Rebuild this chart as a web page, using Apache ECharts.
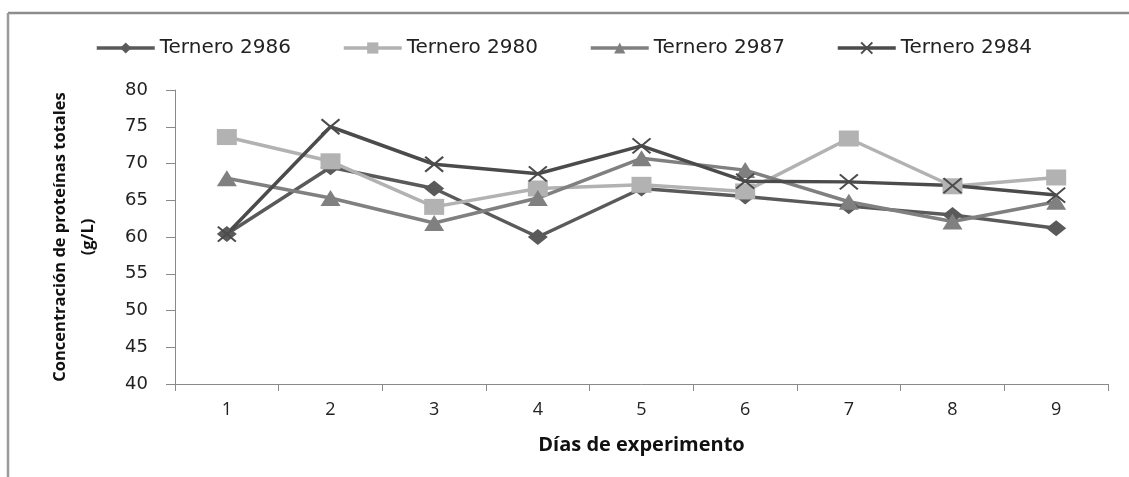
<!DOCTYPE html>
<html>
<head>
<meta charset="utf-8">
<script src="https://cdn.jsdelivr.net/npm/echarts@6/dist/echarts.min.js"></script>
<style>
  html, body { margin: 0; padding: 0; background: #ffffff; }
  #chart { width: 1129px; height: 477px; }
</style>
</head>
<body>
<div id="chart"></div>
<script>
// Días de experimento (categories)
const dias = ['1', '2', '3', '4', '5', '6', '7', '8', '9'];

// Concentración de proteínas totales (g/L) per calf
const ternero2986 = [60.4, 69.5, 66.6, 60.0, 66.6, 65.5, 64.2, 63.0, 61.2];
const ternero2980 = [73.6, 70.3, 64.1, 66.6, 67.1, 66.2, 73.4, 66.9, 68.1];
const ternero2987 = [68.0, 65.3, 61.9, 65.3, 70.7, 69.1, 64.8, 62.1, 64.8];
const ternero2984 = [60.4, 75.0, 69.9, 68.6, 72.4, 67.6, 67.5, 67.0, 65.7];

// Y axis ticks
const yMin = 40, yMax = 80, yStep = 5;

const crossPath = 'path://M0,0L10,10M10,0L0,10';

function lineSeries(name, data, color, symbol, size, extra) {
  return Object.assign({
    name: name,
    type: 'line',
    data: data,
    symbol: symbol,
    symbolSize: size,
    lineStyle: { color: color, width: 3.5 },
    itemStyle: { color: color },
    emphasis: { disabled: true },
    animation: false
  }, extra || {});
}

const chart = echarts.init(document.getElementById('chart'), null, { renderer: 'canvas' });

chart.setOption({
  backgroundColor: '#ffffff',
  animation: false,
  legend: {
    top: 33,
    left: 90,
    itemWidth: 58,
    itemHeight: 14,
    itemGap: 51,
    lineStyle: { width: 3.5 },
    textStyle: { fontFamily: 'DejaVu Sans', fontSize: 20, color: '#222222' },
    data: ['Ternero 2986', 'Ternero 2980', 'Ternero 2987', 'Ternero 2984']
  },
  grid: { left: 175, right: 21, top: 90, bottom: 93, containLabel: false },
  xAxis: {
    type: 'category',
    data: dias,
    boundaryGap: true,
    name: 'Días de experimento',
    nameLocation: 'middle',
    nameGap: 51,
    nameTextStyle: { fontFamily: 'Open Sans', fontWeight: 'bold', fontSize: 20, color: '#111111' },
    axisLine: { lineStyle: { color: '#8a8a8a', width: 1 } },
    axisTick: { show: true, length: 7, lineStyle: { color: '#8a8a8a' } },
    axisLabel: { margin: 17, fontFamily: 'Open Sans', fontSize: 18, color: '#222222' },
    splitLine: { show: false }
  },
  yAxis: {
    type: 'value',
    min: yMin,
    max: yMax,
    interval: yStep,
    name: 'Concentración de proteínas totales\n(g/L)',
    nameLocation: 'middle',
    nameGap: 73,
    nameRotate: 90,
    nameTextStyle: { fontFamily: 'Open Sans', fontWeight: 'bold', fontSize: 16.5, lineHeight: 28, color: '#111111', align: 'center' },
    axisLine: { show: true, lineStyle: { color: '#8a8a8a', width: 1 } },
    axisTick: { show: true, length: 9, lineStyle: { color: '#8a8a8a' } },
    axisLabel: { margin: 27, fontFamily: 'DejaVu Sans', fontSize: 18, color: '#222222' },
    splitLine: { show: false }
  },
  graphic: [
    { type: 'line', shape: { x1: 8, y1: 13, x2: 1129, y2: 13 }, style: { stroke: '#8c8c8c', lineWidth: 2.5 }, silent: true },
    { type: 'line', shape: { x1: 8, y1: 13, x2: 8, y2: 477 }, style: { stroke: '#9a9a9a', lineWidth: 2.5 }, silent: true }
  ],
  series: [
    lineSeries('Ternero 2986', ternero2986, '#5a5a5a', 'diamond', [20, 16]),
    lineSeries('Ternero 2980', ternero2980, '#b2b2b2', 'rect', [20, 16]),
    lineSeries('Ternero 2987', ternero2987, '#808080', 'triangle', [20, 16]),
    lineSeries('Ternero 2984', ternero2984, '#4b4b4b', crossPath, [18, 15], {
      itemStyle: { color: '#4b4b4b', borderColor: '#4b4b4b', borderWidth: 2 }
    })
  ]
});
</script>
</body>
</html>
